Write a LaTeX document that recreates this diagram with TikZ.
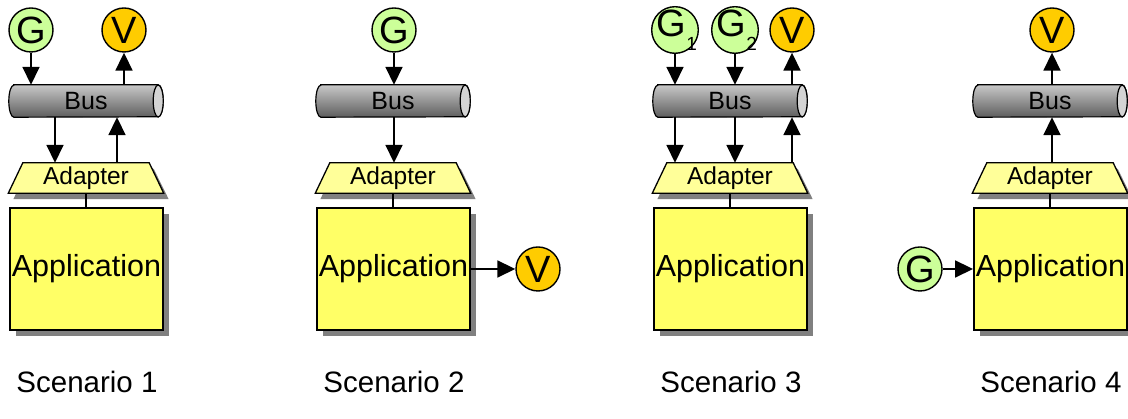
\documentclass[tikz,border=0pt]{standalone}
\usepackage{fontspec}
\setmainfont{Liberation Sans}
\usetikzlibrary{arrows.meta,shadows,backgrounds,calc}

\definecolor{genfill}{HTML}{CCFF99}
\definecolor{viewfill}{HTML}{FFCC00}
\definecolor{adpfill}{HTML}{FFFF99}
\definecolor{appfill}{HTML}{FFFF66}
\definecolor{shadowgray}{HTML}{808080}
\definecolor{bustop}{HTML}{C8C8C8}
\definecolor{busmid}{HTML}{999999}
\definecolor{busbot}{HTML}{5E5E5E}
\definecolor{busend}{HTML}{D4D4D4}

\tikzset{
  arr/.style={line width=1.8pt, -{Triangle[length=18pt,width=17pt]}},
  link/.style={line width=1.2pt},
  gen/.style={circle, draw, line width=1.4pt, fill=genfill, minimum size=44pt,
    inner sep=0pt, font=\fontsize{38}{38}\selectfont},
  viewer/.style={gen, fill=viewfill},
  busnode/.style={rectangle, minimum width=154pt, minimum height=32pt,
    inner sep=0pt, font=\fontsize{25}{25}\selectfont},
  adpnode/.style={rectangle, minimum width=155pt, minimum height=30pt,
    inner sep=0pt, font=\fontsize{24.5}{24.5}\selectfont},
  appnode/.style={rectangle, draw, line width=1.9pt, fill=appfill,
    minimum width=153pt, minimum height=122pt, inner sep=0pt,
    font=\fontsize{30.5}{30.5}\selectfont,
    drop shadow={shadow xshift=6pt, shadow yshift=-6pt, fill=shadowgray, opacity=1}},
  caption/.style={font=\fontsize{29.5}{29.5}\selectfont},
}

% G with a subscript that hangs over the circle's edge
\newcommand\gensub[1]{\hspace*{-7pt}G\rlap{\raisebox{-0.38em}{\fontsize{19}{19}\selectfont #1}}}

% Bus, adapter and application stack with its caption.
% #1 = x offset, #2 = name suffix, #3 = scenario number
\newcommand\drawstack[3]{%
  \node[busnode] (bus#2) at ({#1+86},318) {Bus};
  \node[adpnode] (adp#2) at ({#1+86},241) {Adapter};
  \node[appnode] (app#2) at ({#1+86.5},150) {Application};
  \node[caption] (cap#2) at ({#1+87},37) {Scenario #3};
  \draw[link] (adp#2.south) -- (adp#2.south |- app#2.north);
  \begin{scope}[on background layer]
    % cylinder body of the bus
    \shadedraw[top color=bustop, middle color=busmid, bottom color=busbot, line width=1.2pt]
      ([xshift=5pt]bus#2.north west) -- ([xshift=-5pt]bus#2.north east)
      arc[start angle=90, end angle=-90, x radius=5pt, y radius=16pt]
      -- ([xshift=5pt]bus#2.south west)
      arc[start angle=270, end angle=90, x radius=5pt, y radius=16pt] -- cycle;
    \filldraw[fill=busend, line width=1.2pt]
      ([xshift=-5pt]bus#2.east) ellipse[x radius=5pt, y radius=16pt];
    % adapter trapezoid with its shadow
    \fill[shadowgray]
      ([shift={(5pt,-6pt)}]adp#2.south west) -- ([shift={(5pt,-6pt)}]adp#2.south east)
      -- ([shift={(-10pt,-6pt)}]adp#2.north east) -- ([shift={(20pt,-6pt)}]adp#2.north west) -- cycle;
    \filldraw[fill=adpfill, line width=1.3pt]
      (adp#2.south west) -- (adp#2.south east)
      -- ([xshift=-14.5pt]adp#2.north east) -- ([xshift=14.5pt]adp#2.north west) -- cycle;
  \end{scope}
}

\begin{document}
\begin{tikzpicture}[x=1pt,y=1pt]
  \useasboundingbox (0,0) rectangle (1128,419);

  % Scenario 1
  \drawstack{0}{a}{1}
  \node[gen] (ga) at (31,389) {G};
  \node[viewer] (va) at (124,389) {V};
  \draw[arr] (ga) -- (ga |- busa.north);
  \draw[arr] (busa.north -| va) -- (va);
  \draw[arr] ([xshift=-31pt]busa.south) -- ([xshift=-31pt]adpa.north);
  \draw[arr] ([xshift=31pt]adpa.north) -- ([xshift=31pt]busa.south);

  % Scenario 2
  \drawstack{307}{b}{2}
  \node[gen] (gb) at (394,389) {G};
  \node[viewer] (vb) at (538,150) {V};
  \draw[arr] (gb) -- (gb |- busb.north);
  \draw[arr] (busb.south -| gb) -- (adpb.north -| gb);
  \draw[arr] (appb) -- (vb);

  % Scenario 3
  \drawstack{644}{c}{3}
  \node[gen] (gc1) at (675,389) {\gensub{1}};
  \node[gen] (gc2) at (735,389) {\gensub{2}};
  \node[viewer] (vc) at (792,389) {V};
  \draw[arr] (gc1) -- (gc1 |- busc.north);
  \draw[arr] (gc2) -- (gc2 |- busc.north);
  \draw[arr] (busc.north -| vc) -- (vc);
  \draw[arr] (busc.south -| gc1) -- (adpc.north -| gc1);
  \draw[arr] (busc.south -| gc2) -- (adpc.north -| gc2);
  \draw[arr] (adpc.north -| vc) -- (busc.south -| vc);

  % Scenario 4
  \drawstack{964}{d}{4}
  \node[viewer] (vd) at (1052,389) {V};
  \node[gen] (gd) at (920,150) {G};
  \draw[arr] (busd.north -| vd) -- (vd);
  \draw[arr] (adpd.north -| vd) -- (busd.south -| vd);
  \draw[arr] (gd) -- (appd);
\end{tikzpicture}
\end{document}
